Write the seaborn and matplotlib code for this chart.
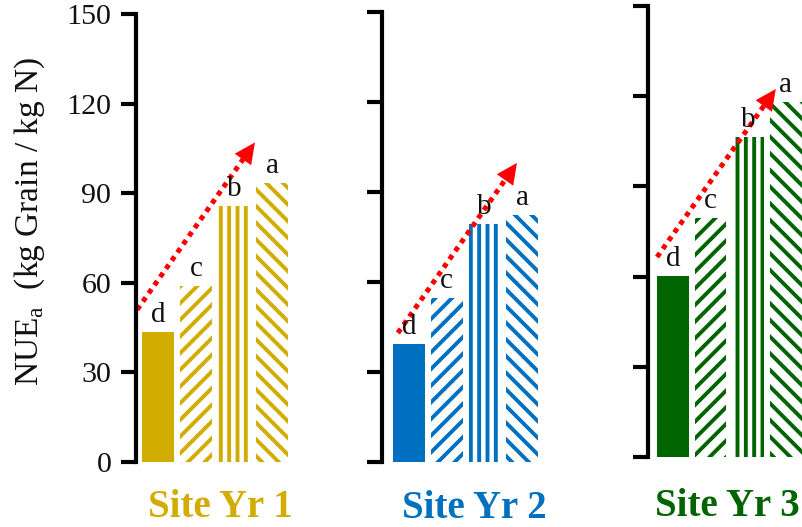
import matplotlib
matplotlib.use("Agg")
import numpy as np
import matplotlib.pyplot as plt
import seaborn as sns
import pandas as pd

# ---- data -------------------------------------------------------------
treatments = ["T1", "T2", "T3", "T4"]
sig_letters = ["d", "c", "b", "a"]
site_titles = ["Site Yr 1", "Site Yr 2", "Site Yr 3"]
site_colors = ["#D2AC00", "#0070C0", "#006400"]
nue_site1 = [43.5, 58.9, 85.7, 93.4]
nue_site2 = [39.3, 54.7, 79.3, 82.3]
nue_site3 = [60.2, 79.6, 106.4, 118.0]
y_ticks = [0, 30, 60, 90, 120, 150]
# trend arrows: (x, NUE) of the tail and of the head
trend_tail = [(-0.55, 51.0), (-0.29, 43.0), (-0.42, 66.5)]
trend_head = [(2.55, 107.0), (2.86, 99.7), (2.73, 122.4)]

site_values = [nue_site1, nue_site2, nue_site3]
hatches = ["", "//", "||", "\\\\"]

# ---- style --------------------------------------------------------------
sns.set_theme(style="white")
plt.rcParams["font.family"] = ["Liberation Serif", "DejaVu Serif"]
plt.rcParams["mathtext.fontset"] = "custom"
plt.rcParams["mathtext.rm"] = "Liberation Serif"
plt.rcParams["hatch.linewidth"] = 2.8

W, H = 802, 527
fig = plt.figure(figsize=(W / 100, H / 100), dpi=100)

# axes placement in pixels: left, y of zero, y of 150, x limits, pixels per bar slot
panels = [
    dict(left=136, y0=462, y1=14, xlim=(-0.58, 3.5), ppu=38.0, title_x=220, title_base=517),
    dict(left=382, y0=462, y1=12, xlim=(-0.71, 3.5), ppu=37.8, title_x=474, title_base=518),
    dict(left=648, y0=457, y1=6, xlim=(-0.66, 3.5), ppu=37.7, title_x=727, title_base=516),
]

for i, (pan, vals, col) in enumerate(zip(panels, site_values, site_colors)):
    width_px = (pan["xlim"][1] - pan["xlim"][0]) * pan["ppu"]
    rect = [pan["left"] / W, 1 - pan["y0"] / H, width_px / W, (pan["y0"] - pan["y1"]) / H]
    ax = fig.add_axes(rect)
    ax.set_facecolor("none")

    df = pd.DataFrame({"treatment": treatments, "nue": vals})
    sns.barplot(data=df, x="treatment", y="nue", color=col, saturation=1,
                width=0.84, errorbar=None, ax=ax)

    for patch, h in zip(ax.patches, hatches):
        if h:
            patch.set_facecolor("white")
            patch.set_edgecolor(col)
            patch.set_linewidth(0)
            patch.set_hatch(h)
        else:
            patch.set_facecolor(col)
            patch.set_edgecolor("none")

    ax.set_xlim(*pan["xlim"])
    ax.set_ylim(0, 150)

    # significance letters above bars
    for xi, (v, lt) in enumerate(zip(vals, sig_letters)):
        ax.annotate(lt, xy=(xi, v), xytext=(0, 7), textcoords="offset points",
                    ha="center", va="baseline", fontsize=21, color="#111111")

    # dotted red trend arrow: dotted shaft stopping at the base of a solid head
    tail_px = ax.transData.transform(trend_tail[i])
    head_px = ax.transData.transform(trend_head[i])
    d = head_px - tail_px
    d = d / np.hypot(*d)
    shaft_end = ax.transData.inverted().transform(head_px - 12 * d)
    ax.plot([trend_tail[i][0], shaft_end[0]], [trend_tail[i][1], shaft_end[1]],
            color="red", lw=3.6, linestyle=(0, (1, 1)), dash_capstyle="butt",
            solid_capstyle="butt")
    ax.annotate("", xy=trend_head[i], xytext=tuple(shaft_end),
                arrowprops=dict(arrowstyle="-|>,head_length=0.75,head_width=0.36",
                                color="red", lw=0, mutation_scale=20,
                                shrinkA=0, shrinkB=0))

    ax.set_yticks(y_ticks)
    ax.set_xticks([])
    ax.set_xlabel("")
    ax.set_ylabel("")
    for s in ("top", "right", "bottom"):
        ax.spines[s].set_visible(False)
    ax.spines["left"].set_color("black")
    ax.spines["left"].set_linewidth(3)
    ax.tick_params(axis="y", direction="out", length=10.8, width=3, color="black",
                   labelsize=21.6, labelcolor="#111111", pad=7, left=True,
                   labelleft=(i == 0))

    fig.text(pan["title_x"] / W, 1 - pan["title_base"] / H, site_titles[i],
             ha="center", va="baseline", fontsize=28, fontweight="bold", color=col)

fig.text(30 / W, 1 - 221 / H, "NUE$_{\\mathregular{a}}$  (kg Grain / kg N)",
         rotation=90, ha="center", va="center", fontsize=24, color="#111111")

fig.savefig("out.png", dpi=100)
